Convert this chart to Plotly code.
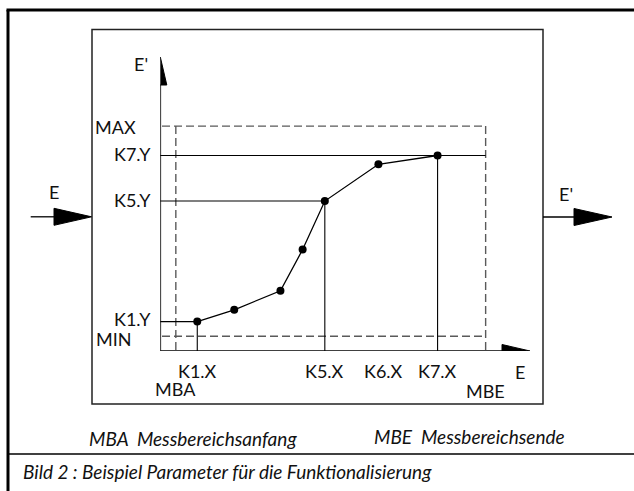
import plotly.graph_objects as go

# ---------------- data (diagram units, E and E' from 0 to 100) ----------------
k_names = ["K1", "K2", "K3", "K4", "K5", "K6", "K7"]
k_x = [10, 20, 32.5, 38.5, 44.5, 59, 75]
k_y = [10, 14, 20.5, 34.5, 51, 63.5, 66.5]
mba, mbe = 4.2, 88          # Messbereichsanfang / -ende  (E)
y_min, y_max = 5, 76.5      # MIN / MAX                   (E')
x_tick_labels = ["K1.X", "K5.X", "K6.X", "K7.X"]
x_tick_idx = [0, 4, 5, 6]
y_tick_labels = ["K1.Y", "K5.Y", "K7.Y"]
y_tick_idx = [0, 4, 6]
caption_left = "MBA  Messbereichsanfang"
caption_right = "MBE  Messbereichsende"
caption_bottom = "Bild 2 : Beispiel Parameter für die Funktionalisierung"

# ---------------- layout geometry ----------------
W, H = 634, 491
X0_PX, X1_PX = 160.3, 530.0     # diagram x-axis origin / arrow tip (px)
Y0_PX, Y1_PX = 351.0, 57.0      # diagram y-axis origin / arrow tip (px)
ux = 100.0 / (X1_PX - X0_PX)    # data units per pixel
uy = 100.0 / (Y0_PX - Y1_PX)

FONT = "Lato, 'Open Sans', sans-serif"
FS = 18
FS_CAP = 19
INK = "#111111"
DASH = "#5a5a5a"
DASHSTYLE = "8px,4px"

fig = go.Figure()

# curve with knot points
fig.add_trace(go.Scatter(
    x=k_x, y=k_y, mode="lines+markers", xaxis="x2", yaxis="y2",
    line=dict(color="black", width=1.3),
    marker=dict(color="black", size=8),
    hoverinfo="text", text=k_names, showlegend=False))

shapes = []

def dline(x0, y0, x1, y1, color="black", width=1.2, dash=None):
    shapes.append(dict(type="line", xref="x2", yref="y2", x0=x0, y0=y0, x1=x1, y1=y1,
                       line=dict(color=color, width=width, dash=dash), layer="below"))

def pline(x0, y0, x1, y1, color="black", width=1.2):
    shapes.append(dict(type="line", xref="x", yref="y", x0=x0, y0=y0, x1=x1, y1=y1,
                       line=dict(color=color, width=width), layer="below"))

def ppath(path):
    shapes.append(dict(type="path", xref="x", yref="y", path=path,
                       fillcolor="black", line=dict(color="black", width=1), layer="above"))

def dpath(path):
    shapes.append(dict(type="path", xref="x2", yref="y2", path=path,
                       fillcolor="black", line=dict(color="black", width=1), layer="above"))

# outer frame
pline(6.5, 10, W, 10, width=3)
pline(8, 10, 8, H, width=3)
pline(8, 454, W, 454, width=1.5)
# inner box
shapes.append(dict(type="rect", xref="x", yref="y", x0=92, y0=29.5, x1=543, y1=404,
                   line=dict(color="#222", width=1.5), layer="below"))
# input / output arrows
pline(30.7, 216.8, 56, 216.8, width=1.3)
ppath("M 54,208.3 L 91.5,216.8 L 54,225.3 Z")
pline(543, 217, 576, 217, width=1.3)
ppath("M 574,208.5 L 612,217 L 574,225.5 Z")

# diagram axes with arrow heads
ah_len, ah_half = 28, 6.5
dline(0, 0, 0, 100 - ah_len * uy, width=1.6)
dpath(f"M {-ah_half*ux},{100-ah_len*uy} L {ah_half*ux},{100-ah_len*uy} L 0,100 Z")
dline(0, 0, 100 - ah_len * ux, 0, width=1.6)
dpath(f"M {100-ah_len*ux},{-ah_half*uy} L {100-ah_len*ux},{ah_half*uy} L 100,0 Z")

# MIN / MAX and MBA / MBE dashed range
x_lab_end = (138 - X0_PX) * ux
dline(x_lab_end, y_max, mbe, y_max, color=DASH, width=1.4, dash=DASHSTYLE)
dline(x_lab_end, y_min, mbe, y_min, color=DASH, width=1.4, dash=DASHSTYLE)
dline(mba, y_max, mba, -21 * uy, color=DASH, width=1.4, dash=DASHSTYLE)
dline(mbe, y_max, mbe, -22 * uy, color=DASH, width=1.4, dash=DASHSTYLE)

# reference lines to the knots
tick = 5.5
for i in y_tick_idx:
    x_end = mbe if i == 6 else k_x[i]
    dline(-tick * ux, k_y[i], x_end, k_y[i], width=1.1)
for i in x_tick_idx:
    if i == 5:
        continue
    dline(k_x[i], k_y[i], k_x[i], -tick * uy, width=1.1)

fig.update_layout(shapes=shapes)

ann = []

def add_text(text, x, y, xref="x", yref="y", xanchor="center", yanchor="middle",
             size=FS, xshift=0, yshift=0):
    ann.append(dict(text=text, x=x, y=y, xref=xref, yref=yref, xanchor=xanchor,
                    yanchor=yanchor, showarrow=False, xshift=xshift, yshift=yshift,
                    font=dict(family=FONT, size=size, color=INK)))

# axis names
add_text("E'", 141, 64)
add_text("E", 53.5, 192)
add_text("E'", 565.5, 194)
add_text("E", 520, 372)

# y labels (right-aligned left of the axis)
add_text("MAX", 138, y_max, yref="y2", xanchor="right", yshift=-1)
add_text("MIN", 134, y_min, yref="y2", xanchor="right", yshift=-2.5)
for lab, i in zip(y_tick_labels, y_tick_idx):
    add_text(lab, 153, k_y[i], yref="y2", xanchor="right", yshift=2.5 if i == 0 else 1)

# x labels
for lab, i in zip(x_tick_labels, x_tick_idx):
    add_text(lab, k_x[i], 371, xref="x2", xshift=5 if i == 5 else 0)
add_text("MBA", mba, 389, xref="x2")
add_text("MBE", mbe, 391, xref="x2")

# captions
add_text(f"<i>{caption_left}</i>", 87, 438, xanchor="left", size=FS_CAP)
add_text(f"<i>{caption_right}</i>", 372, 436, xanchor="left", size=FS_CAP)
add_text(f"<i>{caption_bottom}</i>", 21, 471, xanchor="left", size=FS_CAP)

fig.update_layout(
    annotations=ann,
    width=W, height=H,
    margin=dict(l=0, r=0, t=0, b=0),
    paper_bgcolor="white",
    plot_bgcolor="rgba(0,0,0,0)",
    showlegend=False,
    xaxis=dict(range=[0, W], domain=[0, 1], visible=False, fixedrange=True),
    yaxis=dict(range=[H, 0], domain=[0, 1], visible=False, fixedrange=True),
    xaxis2=dict(range=[0, 100], domain=[X0_PX / W, X1_PX / W], anchor="y2",
                visible=False, fixedrange=True),
    yaxis2=dict(range=[0, 100], domain=[(H - Y0_PX) / H, (H - Y1_PX) / H], anchor="x2",
                visible=False, fixedrange=True),
)

fig.write_html("out.html", config={"displayModeBar": False},
               post_script="document.body.style.margin='0';document.body.style.overflow='hidden';")
